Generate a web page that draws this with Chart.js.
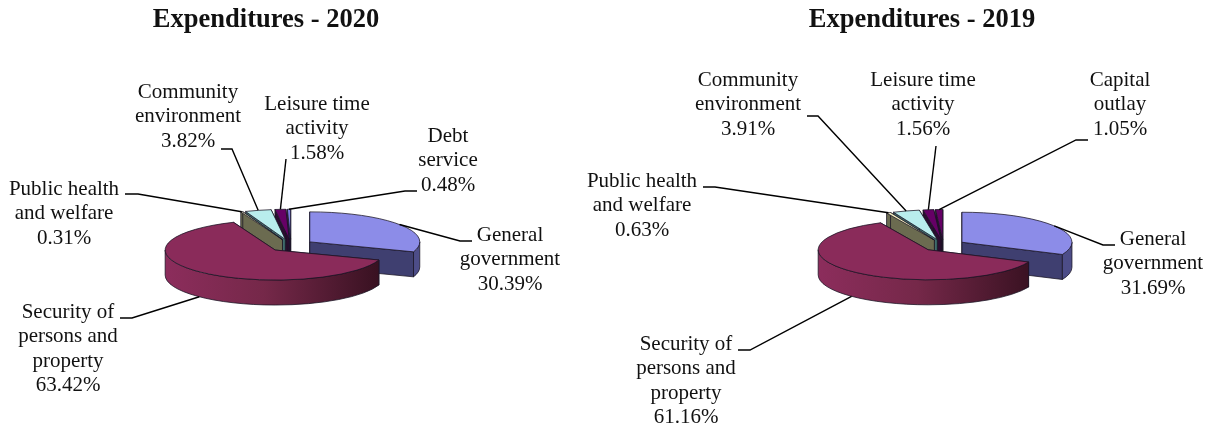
<!DOCTYPE html>
<html>
<head>
<meta charset="utf-8">
<title>Expenditures</title>
<script src="https://cdn.jsdelivr.net/npm/chart.js@4/dist/chart.umd.min.js"></script>
<style>
  html, body { margin: 0; padding: 0; background: #fff; overflow: hidden; }
  #wrap { position: relative; width: 1216px; height: 429px; }
  canvas { position: absolute; top: 0; }
</style>
</head>
<body>
<div id="wrap">
  <canvas id="chart2020" width="575" height="429" style="left:0"></canvas>
  <canvas id="chart2019" width="641" height="429" style="left:575px"></canvas>
</div>
<script>
const categories2020 = ["General government", "Security of persons and property", "Public health and welfare", "Community environment", "Leisure time activity", "Debt service"];
const values2020 = [30.39, 63.42, 0.31, 3.82, 1.58, 0.48];
const lines2020 = [["General", "government"], ["Security of", "persons and", "property"], ["Public health", "and welfare"], ["Community", "environment"], ["Leisure time", "activity"], ["Debt", "service"]];

const categories2019 = ["General government", "Security of persons and property", "Public health and welfare", "Community environment", "Leisure time activity", "Capital outlay"];
const values2019 = [31.69, 61.16, 0.63, 3.91, 1.56, 1.05];
const lines2019 = [["General", "government"], ["Security of", "persons and", "property"], ["Public health", "and welfare"], ["Community", "environment"], ["Leisure time", "activity"], ["Capital", "outlay"]];

const topColors2020 = ["#8c8ce8", "#8a2b5a", "#f4eec2", "#b9eded", "#660066", "#7b7be0"];
const sideColors2020 = ["#3f3f70", "#8a2b5a", "#6b6b50", "#3f6c6c", "#2c0c30", "#2a2a66"];
const topColors2019 = ["#8c8ce8", "#8a2b5a", "#f4eec2", "#b9eded", "#660066", "#660066"];
const sideColors2019 = ["#3f3f70", "#8a2b5a", "#6b6b50", "#3f6c6c", "#2c0c30", "#2c0c30"];

// page coordinates: label centre x, first baseline y
const labelPos2020 = [[510, 241], [68, 318], [64, 195], [188, 98], [317, 110], [448, 142]];
const labelPos2019 = [[1153, 245], [686, 350], [642, 187], [748, 86], [923, 86], [1120, 86]];

// leader start point and the end of its short horizontal run
const leaders2020 = [[472, 241, 460], [120, 318, 132], [125, 194, 138], [221, 149, 232], [286, 159, 286], [417, 191, 405]];
const leaders2019 = [[1115, 245, 1103], [738, 350, 750], [703, 187, 715], [807, 116, 818], [936, 146, 936], [1088, 140, 1076]];

const SQUASH = 30 / 110;
const DEPTH = 25;
const SERIF = '"Liberation Serif", "Times New Roman", serif';

// back slices go first so the big front slice can cover them
const paintOrder = [5, 4, 3, 2, 0, 1];

function slicePath(ctx, cx, cy, r, a0, a1) {
  ctx.beginPath();
  ctx.moveTo(cx, cy);
  ctx.ellipse(cx, cy, r, r * SQUASH, 0, a0, a1);
  ctx.closePath();
}

function paintFace(ctx, fill) {
  ctx.fillStyle = fill;
  ctx.fill();
  ctx.strokeStyle = "rgba(25,20,35,0.85)";
  ctx.lineWidth = 0.9;
  ctx.lineJoin = "round";
  ctx.stroke();
}

function radialWall(ctx, cx, cy, r, a, fill) {
  const px = cx + Math.cos(a) * r;
  const py = cy + Math.sin(a) * r * SQUASH;
  ctx.beginPath();
  ctx.moveTo(cx, cy);
  ctx.lineTo(px, py);
  ctx.lineTo(px, py + DEPTH);
  ctx.lineTo(cx, cy + DEPTH);
  ctx.closePath();
  paintFace(ctx, fill);
}

function curvedWall(ctx, cx, cy, r, a0, a1, fill) {
  const lo = Math.max(a0, 0);
  const hi = Math.min(a1, Math.PI);
  if (lo >= hi) return;
  ctx.beginPath();
  ctx.ellipse(cx, cy, r, r * SQUASH, 0, lo, hi);
  ctx.ellipse(cx, cy + DEPTH, r, r * SQUASH, 0, hi, lo, true);
  ctx.closePath();
  paintFace(ctx, fill);
}

function sliceGeometry(arc) {
  const p = arc.getProps(["x", "y", "startAngle", "endAngle", "outerRadius"], true);
  const mid = (p.startAngle + p.endAngle) / 2;
  const off = arc.options.offset;
  return {
    cx: p.x + Math.cos(mid) * off,
    cy: p.y + Math.sin(mid) * off * SQUASH,
    r: p.outerRadius,
    a0: p.startAngle,
    a1: p.endAngle,
    mid
  };
}

// tilted pie: walls and top faces come from the arc elements of the chart
const tiltedPie = {
  id: "tiltedPie",
  beforeDatasetsDraw(chart, args, opts) {
    const ctx = chart.ctx;
    const arcs = chart.getDatasetMeta(0).data;
    ctx.save();
    paintOrder.forEach((i) => {
      const g = sliceGeometry(arcs[i]);
      radialWall(ctx, g.cx, g.cy, g.r, g.a0, opts.sideColors[i]);
      radialWall(ctx, g.cx, g.cy, g.r, g.a1, opts.sideColors[i]);
      let wall = opts.sideColors[i];
      if (i === 1) {
        wall = ctx.createLinearGradient(g.cx - g.r, 0, g.cx + g.r, 0);
        wall.addColorStop(0, "#8c2d5c");
        wall.addColorStop(0.45, "#752849");
        wall.addColorStop(1, "#35101f");
      } else if (i === 0) {
        wall = "#4d4d88";
      }
      curvedWall(ctx, g.cx, g.cy, g.r, g.a0, g.a1, wall);
      slicePath(ctx, g.cx, g.cy, g.r, g.a0, g.a1);
      paintFace(ctx, arcs[i].options.backgroundColor);
    });
    ctx.restore();
    return false;
  },
  afterDraw(chart, args, opts) {
    const ctx = chart.ctx;
    const arcs = chart.getDatasetMeta(0).data;
    const values = chart.data.datasets[0].data;
    ctx.save();
    // labels and leader starts are in page coordinates
    ctx.translate(-opts.pageLeft, 0);
    ctx.fillStyle = "#111";
    ctx.textAlign = "center";
    ctx.textBaseline = "alphabetic";
    ctx.font = "bold 26.5px " + SERIF;
    ctx.fillText(opts.title, opts.titleX, 27);

    ctx.font = "21px " + SERIF;
    opts.lines.forEach((lines, i) => {
      const [x, y] = opts.labelPos[i];
      lines.concat(values[i].toFixed(2) + "%").forEach((t, n) => {
        ctx.fillText(t, x, y + n * 24.4);
      });

      const g = sliceGeometry(arcs[i]);
      const ax = g.cx + Math.cos(g.mid) * g.r + opts.pageLeft;
      let ay = g.cy + Math.sin(g.mid) * g.r * SQUASH;
      if (Math.sin(g.mid) > 0) ay += DEPTH;
      const [sx, sy, ex] = opts.leaders[i];
      ctx.beginPath();
      ctx.moveTo(sx, sy);
      ctx.lineTo(ex, sy);
      ctx.lineTo(ax, ay);
      ctx.strokeStyle = "#000";
      ctx.lineWidth = 1.4;
      ctx.stroke();
    });
    ctx.restore();
  }
};

function drawPie(id, cfg) {
  const canvas = document.getElementById(id);
  new Chart(canvas.getContext("2d"), {
    type: "pie",
    plugins: [tiltedPie],
    data: {
      labels: cfg.categories,
      datasets: [{
        data: cfg.values,
        backgroundColor: cfg.topColors,
        offset: cfg.offset,
        borderWidth: 0
      }]
    },
    options: {
      responsive: false,
      animation: false,
      radius: 110,
      layout: { padding: cfg.padding },
      plugins: {
        legend: { display: false },
        tooltip: { enabled: false },
        tiltedPie: {
          sideColors: cfg.sideColors,
          lines: cfg.lines,
          labelPos: cfg.labelPos,
          leaders: cfg.leaders,
          title: cfg.title,
          titleX: cfg.titleX,
          pageLeft: cfg.pageLeft
        }
      }
    }
  });
}

drawPie("chart2020", {
  categories: categories2020,
  values: values2020,
  topColors: topColors2020,
  sideColors: sideColors2020,
  lines: lines2020,
  labelPos: labelPos2020,
  leaders: leaders2020,
  offset: 23,
  padding: { left: 7, top: 62 },
  title: "Expenditures - 2020",
  titleX: 266,
  pageLeft: 0
});

drawPie("chart2019", {
  categories: categories2019,
  values: values2019,
  topColors: topColors2019,
  sideColors: sideColors2019,
  lines: lines2019,
  labelPos: labelPos2019,
  leaders: leaders2019,
  offset: 22,
  padding: { left: 96, top: 62 },
  title: "Expenditures - 2019",
  titleX: 922,
  pageLeft: 575
});
</script>
</body>
</html>
